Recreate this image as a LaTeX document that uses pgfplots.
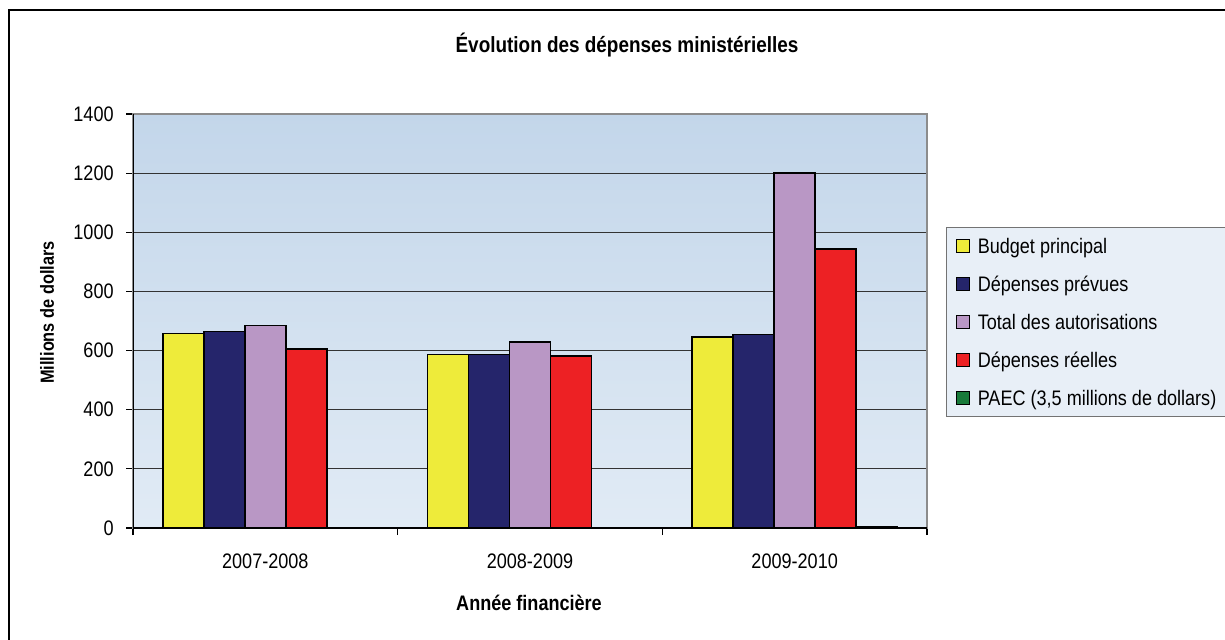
\documentclass[border=0pt]{standalone}
\usepackage{fontspec}
\setmainfont[FakeStretch=0.86]{Liberation Sans}
\usepackage{pgfplots}
\pgfplotsset{compat=1.18}
\definecolor{cyel}{RGB}{238,235,58}
\definecolor{cnavy}{RGB}{37,37,107}
\definecolor{cpurp}{RGB}{185,151,197}
\definecolor{cred}{RGB}{237,33,36}
\definecolor{cgreen}{RGB}{24,122,58}
\definecolor{bgtop}{RGB}{195,214,234}
\definecolor{bgbot}{RGB}{225,235,245}
\definecolor{clegend}{RGB}{232,239,247}
\newcommand{\tickfont}{\fontsize{10.5}{12}\selectfont}
\begin{document}
\begin{tikzpicture}[x=0.5pt,y=0.5pt]
\useasboundingbox (0,0) rectangle (1225,639);
\fill[white] (0,0) rectangle (1225,639);
\begin{axis}[
  at={(66.5pt,55.5pt)}, anchor=south west, scale only axis,
  width=397pt, height=207pt,
  xmin=-0.5, xmax=2.5, ymin=0, ymax=1400,
  ybar=0pt, bar width=20.5pt,
  axis background/.style={top color=bgtop, bottom color=bgbot},
  axis line style={draw=black!45, line width=1pt},
  xtick={0,1,2}, xticklabels={2007-2008,2008-2009,2009-2010},
  minor xtick={-0.5,0.5,1.5,2.5},
  major x tick style={draw=none},
  minor x tick style={black, line width=0.6pt},
  ytick={0,200,...,1400},
  y tick style={black, line width=0.6pt},
  tick pos=left,
  tick align=outside, major tick length=3.5pt, minor tick length=3.5pt,
  ymajorgrids=true,
  major grid style={black!80, line width=0.5pt},
  scaled y ticks=false,
  /pgf/number format/1000 sep={},
  /pgf/number format/assume math mode=true,
  yticklabel style={font=\tickfont, inner sep=0pt, xshift=-6pt},
  xticklabel style={font=\tickfont, inner sep=0pt, anchor=north, yshift=-9pt},
  legend cell align=left,
  legend image code/.code={\draw[#1, line width=0.6pt] (0pt,-3.2pt) rectangle (6.5pt,3.3pt);},
  legend style={at={(1.0239,0.727)}, anchor=north west,
    draw=black!55, fill=clegend, line width=0.6pt,
    inner xsep=4.5pt, inner ysep=5.5pt, row sep=11.5pt,
    font=\tickfont,
    nodes={inner sep=0pt, text height=7.5pt, text depth=0pt},
    /tikz/every odd column/.append style={column sep=4pt}},
]
\addplot[fill=cyel, draw=black, line width=0.75pt] coordinates {(0,658) (1,587) (2,646)};
\addplot[fill=cnavy, draw=black, line width=0.75pt] coordinates {(0,665) (1,587) (2,654)};
\addplot[fill=cpurp, draw=black, line width=0.75pt] coordinates {(0,684) (1,629) (2,1200)};
\addplot[fill=cred, draw=black, line width=0.75pt] coordinates {(0,605) (1,581) (2,943)};
\addplot[fill=cgreen, draw=black, line width=0.75pt] coordinates {(2,3.5)};
\legend{Budget principal, Dépenses prévues, Total des autorisations, Dépenses réelles, {PAEC (3,5 millions de dollars)}}
\draw[black, line width=1pt] (rel axis cs:0,0) -- (rel axis cs:0,1);
\draw[black, line width=0.8pt] (rel axis cs:0,0) -- (rel axis cs:1,0);
\end{axis}
\draw[black, line width=1pt] (9,-20) rectangle (1260,629);
\node[font=\bfseries\fontsize{11}{13}\selectfont] at (627,594) {Évolution des dépenses ministérielles};
\node[font=\bfseries\fontsize{10.5}{12}\selectfont] at (529,36) {Année financière};
\node[font=\bfseries\fontsize{9.5}{11}\selectfont, rotate=90] at (47,326.5) {Millions de dollars};
\end{tikzpicture}
\end{document}
